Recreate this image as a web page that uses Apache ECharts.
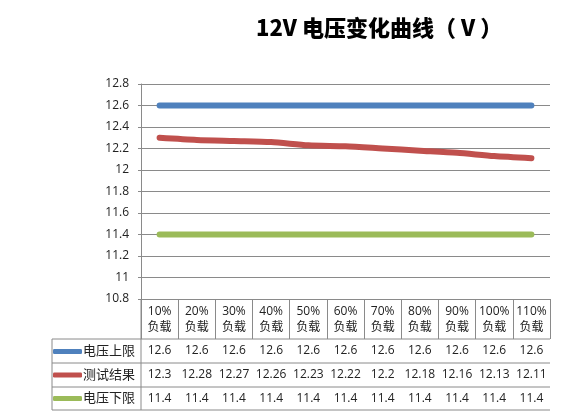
<!DOCTYPE html>
<html lang="zh">
<head>
  <meta charset="UTF-8" />
  <title>12V 电压变化曲线</title>
  <script src="https://cdn.jsdelivr.net/npm/echarts@6/dist/echarts.min.js"></script>
  <style>
    body { margin: 0; background: #fff; }
    #chart { width: 564px; height: 413px; }
  </style>
</head>
<body>
  <div id="chart"></div>
  <script>
    const categories = ['10%\n负载', '20%\n负载', '30%\n负载', '40%\n负载', '50%\n负载', '60%\n负载',
      '70%\n负载', '80%\n负载', '90%\n负载', '100%\n负载', '110%\n负载'];
    const seriesNames = ['电压上限', '测试结果', '电压下限'];
    const upperLimit = [12.6, 12.6, 12.6, 12.6, 12.6, 12.6, 12.6, 12.6, 12.6, 12.6, 12.6];
    const testResult = [12.3, 12.28, 12.27, 12.26, 12.23, 12.22, 12.2, 12.18, 12.16, 12.13, 12.11];
    const lowerLimit = [11.4, 11.4, 11.4, 11.4, 11.4, 11.4, 11.4, 11.4, 11.4, 11.4, 11.4];
    const rows = [upperLimit, testResult, lowerLimit];
    const colors = ['#4F81BD', '#C0504D', '#9BBB59'];

    const gridLeft = 141, gridRight = 550, gridTop = 84, gridBottom = 299;
    const rowLines = [339, 363, 387, 410];
    const rowCenters = [351, 375, 398.5];
    const lineColor = '#8a8a8a';
    const font = "'Open Sans', 'Noto Sans CJK SC', sans-serif";

    const chart = echarts.init(document.getElementById('chart'));

    // table rows are extra category axes, labels taken from the row arrays
    const rowAxes = rows.map((vals, r) => ({
      type: 'category',
      data: categories,
      position: 'bottom',
      offset: rowCenters[r] - gridBottom,
      axisLine: { show: false },
      axisTick: { show: false },
      axisLabel: {
        interval: 0,
        margin: 0,
        verticalAlign: 'middle',
        color: '#222',
        fontSize: 12,
        fontFamily: font,
        formatter: (v, i) => String(vals[i])
      }
    }));

    // table borders
    const tableLines = rowLines.map(y => ({
      type: 'line',
      shape: { x1: 52, y1: y, x2: gridRight, y2: y },
      style: { stroke: lineColor, lineWidth: 1 }
    }));
    tableLines.push({
      type: 'line',
      shape: { x1: 52, y1: rowLines[0], x2: 52, y2: rowLines[3] },
      style: { stroke: lineColor, lineWidth: 1 }
    });
    tableLines.push({
      type: 'line',
      shape: { x1: gridLeft, y1: gridBottom, x2: gridLeft, y2: rowLines[3] },
      style: { stroke: lineColor, lineWidth: 1 }
    });

    const option = {
      backgroundColor: '#fff',
      animation: false,
      color: colors,
      title: {
        text: '12V 电压变化曲线（ V ）',
        left: 251,
        top: 12,
        textStyle: {
          fontSize: 22,
          fontWeight: 900,
          color: '#000',
          fontFamily: "'Noto Sans CJK SC', sans-serif"
        }
      },
      legend: {
        orient: 'vertical',
        left: 53,
        top: 345,
        itemWidth: 29,
        itemHeight: 5,
        itemGap: 10.5,
        padding: 0,
        icon: 'roundRect',
        data: seriesNames,
        textStyle: { fontSize: 13, color: '#222', fontFamily: font, padding: [0, 0, 0, -4] }
      },
      grid: {
        left: gridLeft,
        right: 564 - gridRight,
        top: gridTop,
        bottom: 413 - gridBottom,
        containLabel: false
      },
      xAxis: [{
        type: 'category',
        data: categories,
        boundaryGap: true,
        axisLine: { show: true, lineStyle: { color: lineColor } },
        axisTick: { show: true, length: rowLines[0] - gridBottom, alignWithLabel: false, lineStyle: { color: lineColor } },
        axisLabel: {
          interval: 0,
          margin: 5,
          color: '#222',
          fontSize: 12,
          lineHeight: 16,
          fontFamily: font
        }
      }].concat(rowAxes),
      yAxis: {
        type: 'value',
        min: 10.8,
        max: 12.8,
        interval: 0.2,
        axisLine: { show: true, lineStyle: { color: lineColor } },
        axisTick: { show: true, length: 3, lineStyle: { color: lineColor } },
        axisLabel: { margin: 12, color: '#222', fontSize: 12, fontFamily: font },
        splitLine: { lineStyle: { color: lineColor, width: 1 } }
      },
      series: [
        { name: seriesNames[0], type: 'line', data: upperLimit, showSymbol: false,
          lineStyle: { width: 6, cap: 'round' } },
        { name: seriesNames[1], type: 'line', data: testResult, showSymbol: false, smooth: 0.25,
          lineStyle: { width: 6, cap: 'round' } },
        { name: seriesNames[2], type: 'line', data: lowerLimit, showSymbol: false,
          lineStyle: { width: 6, cap: 'round' } }
      ],
      graphic: tableLines
    };

    chart.setOption(option);
    window.addEventListener('resize', () => chart.resize());
  </script>
</body>
</html>
